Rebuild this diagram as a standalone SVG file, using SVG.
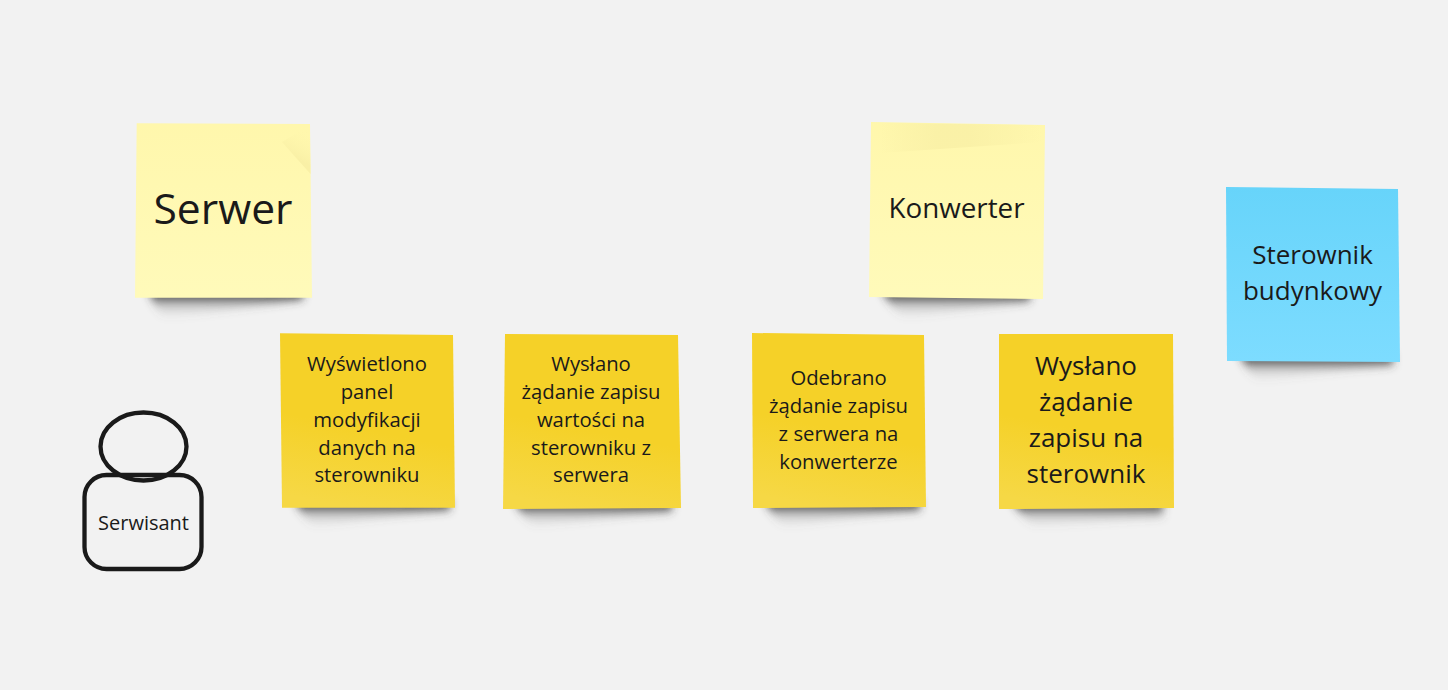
<svg xmlns="http://www.w3.org/2000/svg" width="1448" height="690" viewBox="0 0 1448 690">
<style>
text{font-family:"Open Sans","Noto Sans","DejaVu Sans",sans-serif;fill:#1a1a1a;text-anchor:middle}
.s{font-size:20.3px}.m{font-size:26px}.k{font-size:27.800px}.l{font-size:42.600px}.p{font-size:20px}
.sh{fill:url(#sg);filter:url(#b)}
.line{fill:none;stroke:#1a1a1a;stroke-width:4.300}
</style>
<defs>
<linearGradient id="yl" x1="0" y1="0" x2="0" y2="1"><stop offset="0" stop-color="#fff7ac"/><stop offset="1" stop-color="#fffaba"/></linearGradient>
<linearGradient id="yd" x1="0.6" y1="0" x2="0.4" y2="1"><stop offset="0" stop-color="#f5d128"/><stop offset="0.55" stop-color="#f5d128"/><stop offset="1" stop-color="#f6d845"/></linearGradient>
<linearGradient id="bl" x1="0" y1="0" x2="0" y2="1"><stop offset="0" stop-color="#67d4fa"/><stop offset="1" stop-color="#7ddcff"/></linearGradient>
<linearGradient id="sg" x1="0" y1="0" x2="0" y2="1"><stop offset="0.25" stop-color="#2a2a2a" stop-opacity="0.8"/><stop offset="0.55" stop-color="#555" stop-opacity="0.25"/><stop offset="1" stop-color="#777" stop-opacity="0"/></linearGradient>
<linearGradient id="fold" gradientUnits="userSpaceOnUse" x1="296" y1="158" x2="310" y2="132"><stop offset="0" stop-color="#f9f0a6"/><stop offset="1" stop-color="#fff7ac" stop-opacity="0"/></linearGradient>
<linearGradient id="band" x1="0" y1="0" x2="1" y2="0"><stop offset="0" stop-color="#f9f0a6" stop-opacity="0"/><stop offset="0.35" stop-color="#f9f0a6" stop-opacity="0.85"/><stop offset="0.55" stop-color="#f9f0a6" stop-opacity="0.85"/><stop offset="1" stop-color="#f9f0a6" stop-opacity="0"/></linearGradient>
<filter id="b" x="-20%" y="-100%" width="140%" height="300%"><feGaussianBlur stdDeviation="4"/></filter>
</defs>
<rect width="1448" height="690" fill="#f2f2f2"/>
<g id="connectors"/>
<g id="serwer">
<path class="sh" d="M149 289H303V300Q230 310 165 318Q152 306 149 289Z"/>
<polygon points="136.700,123.300 310,124 312,297.700 135,297.700" fill="url(#yl)"/>
<polygon points="282,142 310,125 310.500,174" fill="url(#fold)"/>
<text class="l" x="223" y="224">Serwer</text>
</g>
<g id="konwerter">
<path class="sh" d="M882 289H1030V302Q960 310 905 318Q888 306 882 289Z"/>
<polygon points="871,122 1045,125 1043,299 869,297" fill="url(#yl)"/>
<polygon points="880,123 1042,125 1042,142 880,153" fill="url(#band)"/>
<text class="k" x="956.500" y="218">Konwerter</text>
</g>
<g id="sterownik">
<path class="sh" d="M1240 353H1393V366Q1320 372 1258 381Q1245 370 1240 353Z"/>
<polygon points="1226,187 1398,189 1400,362 1227,361" fill="url(#bl)"/>
<text class="m" x="1312.500" y="264">Sterownik</text>
<text class="m" x="1312.500" y="300">budynkowy</text>
</g>
<g id="wyswietlono">
<path class="sh" d="M295 499H450V511Q370 518 315 527Q300 516 295 499Z"/>
<polygon points="280,333.300 453,335 455,507.700 282,507.700" fill="url(#yd)"/>
<text class="s" x="367" y="371">Wyświetlono</text>
<text class="s" x="367" y="399">panel</text>
<text class="s" x="367" y="427">modyfikacji</text>
<text class="s" x="367" y="455">danych na</text>
<text class="s" x="367" y="482">sterowniku</text>
</g>
<g id="wyslano-zadanie">
<path class="sh" d="M515 500H672V512Q590 519 535 527Q520 516 515 500Z"/>
<polygon points="505,334 678,335 681,508 503,509" fill="url(#yd)"/>
<text class="s" x="591" y="371">Wysłano</text>
<text class="s" x="591" y="399">żądanie zapisu</text>
<text class="s" x="591" y="427">wartości na</text>
<text class="s" x="591" y="455">sterowniku z</text>
<text class="s" x="591" y="482">serwera</text>
</g>
<g id="odebrano">
<path class="sh" d="M765 499H920V511Q840 518 785 527Q770 516 765 499Z"/>
<polygon points="752,333 924,335 926,507 753,508" fill="url(#yd)"/>
<text class="s" x="838.500" y="385">Odebrano</text>
<text class="s" x="838.500" y="413">żądanie zapisu</text>
<text class="s" x="838.500" y="441">z serwera na</text>
<text class="s" x="838.500" y="469">konwerterze</text>
</g>
<g id="wyslano-sterownik">
<path class="sh" d="M1012 500H1163V518Q1090 522 1035 527Q1020 516 1012 500Z"/>
<polygon points="999,334 1173,334 1174,508 999,509" fill="url(#yd)"/>
<text class="m" x="1086" y="375">Wysłano</text>
<text class="m" x="1086" y="411">żądanie</text>
<text class="m" x="1086" y="447">zapisu na</text>
<text class="m" x="1086" y="483">sterownik</text>
</g>
<g id="serwisant">
<ellipse class="line" cx="143.500" cy="446.500" rx="43" ry="34"/>
<rect class="line" x="84.500" y="475" width="117" height="94" rx="22" ry="22"/>
<text class="p" x="143.500" y="530">Serwisant</text>
</g>
</svg>
